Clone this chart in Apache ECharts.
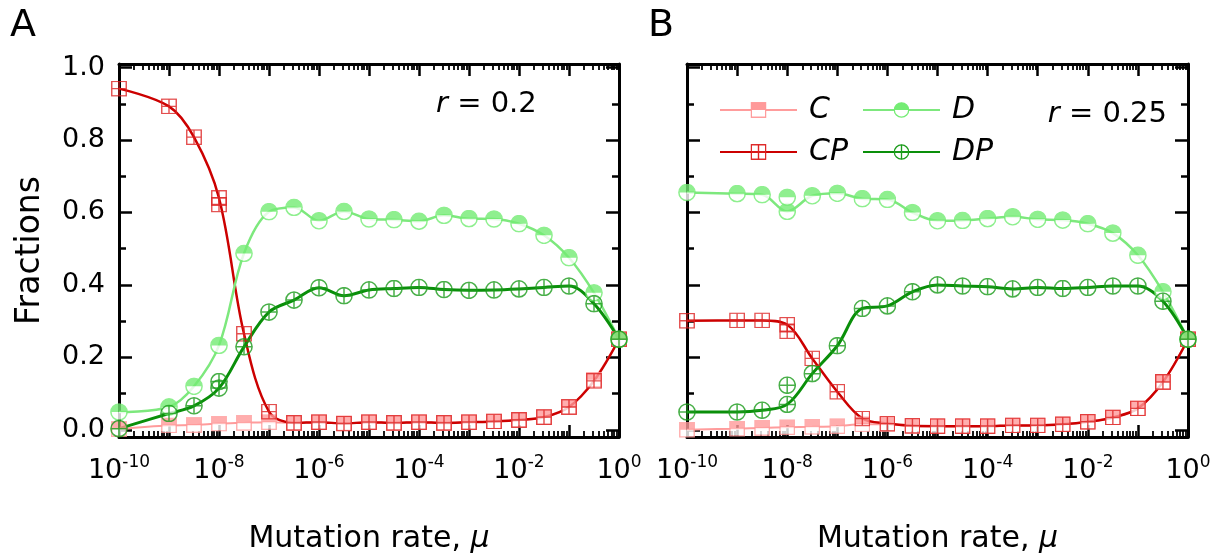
<!DOCTYPE html>
<html><head><meta charset="utf-8">
<script src="https://cdn.jsdelivr.net/npm/echarts@6/dist/echarts.min.js"></script>
<style>html,body{margin:0;padding:0;background:#fff}#c{width:1228px;height:560px}</style>
</head><body><div id="c"></div>
<script>
// ---------------- data ----------------
const mu = [1e-10, 1e-9, 3.162e-9, 1e-8, 3.162e-8, 1e-7, 3.162e-7, 1e-6, 3.162e-6, 1e-5,
            3.162e-5, 1e-4, 3.162e-4, 1e-3, 3.162e-3, 1e-2, 3.162e-2, 0.1, 0.3162, 1];
const xTickValues = [1e-10, 1e-9, 1e-8, 1e-7, 1e-6, 1e-5, 1e-4, 1e-3, 1e-2, 1e-1, 1];
const xLabelValues = [1e-10, 1e-8, 1e-6, 1e-4, 1e-2, 1];
const yLabelValues = [0, 0.2, 0.4, 0.6, 0.8, 1.0];
const yMinorValues = [0.1, 0.3, 0.5, 0.7, 0.9];

// Panel A (r = 0.2)
const cA  = [0.002, 0.012, 0.013, 0.017, 0.019, 0.021, 0.019, 0.021, 0.018, 0.021, 0.019, 0.021, 0.019, 0.021, 0.023, 0.027, 0.034, 0.062, 0.138, 0.25];
const cpA = [0.942, 0.893, 0.808, 0.640, 0.265, 0.050, 0.019, 0.021, 0.017, 0.021, 0.019, 0.021, 0.019, 0.021, 0.023, 0.027, 0.035, 0.063, 0.135, 0.25];
const dA  = [0.049, 0.063, 0.120, 0.233, 0.487, 0.602, 0.614, 0.577, 0.603, 0.582, 0.580, 0.576, 0.592, 0.583, 0.582, 0.569, 0.537, 0.475, 0.378, 0.25];
const dpA = [0.003, 0.045, 0.066, 0.115, 0.229, 0.325, 0.358, 0.392, 0.370, 0.386, 0.390, 0.393, 0.387, 0.385, 0.386, 0.389, 0.393, 0.397, 0.348, 0.25];
// Panel B (r = 0.25)
const cB  = [0.000, 0.003, 0.005, 0.007, 0.008, 0.010, 0.015, 0.015, 0.010, 0.010, 0.010, 0.010, 0.012, 0.012, 0.015, 0.022, 0.034, 0.059, 0.132, 0.25];
const cpB = [0.301, 0.302, 0.302, 0.290, 0.197, 0.105, 0.031, 0.017, 0.011, 0.010, 0.010, 0.010, 0.012, 0.012, 0.015, 0.022, 0.034, 0.059, 0.132, 0.25];
const dB  = [0.655, 0.652, 0.649, 0.603, 0.646, 0.653, 0.638, 0.636, 0.600, 0.577, 0.578, 0.583, 0.588, 0.581, 0.579, 0.569, 0.543, 0.482, 0.381, 0.25];
const dpB = [0.049, 0.049, 0.054, 0.070, 0.155, 0.232, 0.335, 0.342, 0.381, 0.400, 0.397, 0.395, 0.389, 0.393, 0.390, 0.393, 0.397, 0.397, 0.355, 0.25];
// replicate markers at mu = 1e-8
const dupMu = 1e-8;
const cpAextra = [0.622];
const dpAextra = [0.133];
const cpBextra = [0.272];
const dpBextra = [0.123];
const dBextra  = [0.642];
const rTexts = ['0.2', '0.25'];

// ---------------- style ----------------
const FONT = 'DejaVu Sans';
const COL = {
  C:  {line: '#ff9c9c', mark: '#ff9a9a', w: 2},
  CP: {line: '#cc0000', mark: '#dd2222', w: 2.5},
  D:  {line: '#7de87d', mark: '#74ec74', w: 2.5},
  DP: {line: '#0a8f0a', mark: '#1c9c1c', w: 3}
};
function img(svg) { return 'image://data:image/svg+xml;charset=utf-8,' + encodeURIComponent(svg); }
const SYM = {
  C: img(`<svg xmlns="http://www.w3.org/2000/svg" width="34" height="34" viewBox="0 0 17 17"><rect x="0.8" y="0.8" width="15.4" height="8.2" fill="${COL.C.mark}"/><rect x="0.8" y="8.5" width="15.4" height="7.7" fill="#fff"/><rect x="0.8" y="0.8" width="15.4" height="15.4" fill="none" stroke="${COL.C.mark}" stroke-width="1.5"/></svg>`),
  CP: img(`<svg xmlns="http://www.w3.org/2000/svg" width="34" height="34" viewBox="0 0 17 17"><rect x="0.8" y="0.8" width="15.4" height="15.4" fill="none" stroke="${COL.CP.mark}" stroke-width="1.5"/><path d="M8.5 0.8V16.2M0.8 8.5H16.2" stroke="${COL.CP.mark}" stroke-width="1.5"/></svg>`),
  D: img(`<svg xmlns="http://www.w3.org/2000/svg" width="36" height="36" viewBox="0 0 18 18"><circle cx="9" cy="9" r="8.1" fill="#fff"/><path d="M0.9 9A8.1 8.1 0 0 1 17.1 9Z" fill="${COL.D.mark}"/><circle cx="9" cy="9" r="8.1" fill="none" stroke="${COL.D.mark}" stroke-width="1.5"/></svg>`),
  DP: img(`<svg xmlns="http://www.w3.org/2000/svg" width="36" height="36" viewBox="0 0 18 18"><circle cx="9" cy="9" r="8.1" fill="none" stroke="${COL.DP.mark}" stroke-width="1.5"/><path d="M9 0.9V17.1M0.9 9H17.1" stroke="${COL.DP.mark}" stroke-width="1.5"/></svg>`)
};
const SIZE = {C: 16, CP: 16, D: 18, DP: 18};

const minorX = [];
for (let d = -10; d < 0; d++) for (let k = 2; k <= 9; k++) minorX.push(k * Math.pow(10, d));

const GRIDS = [
  {left: 119, right: 609, top: 64, bottom: 123},
  {left: 687, right: 40, top: 64, bottom: 123}
];

function xAxesFor(g) {
  const base = {type: 'log', logBase: 10, gridIndex: g, min: 1e-10, max: 1, splitLine: {show: false}, silent: true};
  const lineOn = {show: true, onZero: false, lineStyle: {color: '#000', width: 3}};
  const lineOff = {show: false, onZero: false};
  const major = {show: true, inside: true, length: 12, customValues: xTickValues, lineStyle: {color: '#000', width: 2.5}};
  const minor = {show: true, inside: true, length: 6, customValues: minorX, lineStyle: {color: '#000', width: 1.8}};
  return [
    Object.assign({}, base, {
      position: 'bottom', axisLine: lineOn, axisTick: major,
      axisLabel: {
        show: true, customValues: xLabelValues, margin: 17, color: '#000',
        formatter: v => '{b|10}{s|' + Math.round(Math.log10(v)) + '}',
        rich: {
          b: {fontFamily: FONT, fontSize: 27, color: '#000', verticalAlign: 'bottom', lineHeight: 30},
          s: {fontFamily: FONT, fontSize: 17, color: '#000', verticalAlign: 'top', lineHeight: 18}
        }
      },
      name: 'Mutation rate, {i|μ}', nameLocation: 'middle', nameGap: 87, nameMoveOverlap: false,
      nameTextStyle: {fontFamily: FONT, fontSize: 30, color: '#000',
        rich: {i: {fontFamily: FONT, fontSize: 30, fontStyle: 'italic', color: '#000'}}}
    }),
    Object.assign({}, base, {position: 'bottom', axisLine: lineOff, axisTick: minor, axisLabel: {show: false}}),
    Object.assign({}, base, {position: 'top', axisLine: lineOn, axisTick: major, axisLabel: {show: false}}),
    Object.assign({}, base, {position: 'top', axisLine: lineOff, axisTick: minor, axisLabel: {show: false}})
  ];
}
function yAxesFor(g) {
  const base = {type: 'value', gridIndex: g, min: -0.02, max: 1.01, splitLine: {show: false}, silent: true};
  const lineOn = {show: true, onZero: false, lineStyle: {color: '#000', width: 3}};
  const lineOff = {show: false, onZero: false};
  const major = {show: true, inside: true, length: 13, customValues: yLabelValues, lineStyle: {color: '#000', width: 2.5}};
  const minor = {show: true, inside: true, length: 7, customValues: yMinorValues, lineStyle: {color: '#000', width: 2.5}};
  const left = Object.assign({}, base, {position: 'left', axisLine: lineOn, axisTick: major,
    axisLabel: g === 0 ? {show: true, customValues: yLabelValues, margin: 14, color: '#000',
      fontFamily: FONT, fontSize: 27, formatter: v => v.toFixed(1)} : {show: false}});
  if (g === 0) {
    Object.assign(left, {name: 'Fractions', nameLocation: 'middle', nameGap: 72, nameMoveOverlap: false,
      nameTextStyle: {fontFamily: FONT, fontSize: 33, color: '#000'}});
  }
  return [
    left,
    Object.assign({}, base, {position: 'left', axisLine: lineOff, axisTick: minor, axisLabel: {show: false}}),
    Object.assign({}, base, {position: 'right', axisLine: lineOn, axisTick: major, axisLabel: {show: false}}),
    Object.assign({}, base, {position: 'right', axisLine: lineOff, axisTick: minor, axisLabel: {show: false}})
  ];
}

function pairs(vals) { return mu.map((m, i) => [m, vals[i]]); }
function extras(vals) { return vals.map(v => [dupMu, v]); }

const panels = [
  {C: cA, CP: cpA, D: dA, DP: dpA, extra: {CP: cpAextra, DP: dpAextra}},
  {C: cB, CP: cpB, D: dB, DP: dpB, extra: {CP: cpBextra, DP: dpBextra, D: dBextra}}
];
const names = ['C', 'CP', 'D', 'DP'];
const series = [];
panels.forEach((p, g) => {
  names.forEach(n => {
    series.push({
      type: 'line', name: n, xAxisIndex: g * 4, yAxisIndex: g * 4,
      data: pairs(p[n]), smooth: 0.35, showSymbol: false, symbol: SYM[n], symbolSize: SIZE[n],
      lineStyle: {color: COL[n].line, width: COL[n].w}, itemStyle: {color: COL[n].line},
      silent: true, z: 2
    });
  });
  names.forEach(n => {
    const data = pairs(p[n]).concat(p.extra[n] ? extras(p.extra[n]) : []);
    series.push({
      type: 'scatter', name: n, xAxisIndex: g * 4, yAxisIndex: g * 4,
      data: data, symbol: SYM[n], symbolSize: SIZE[n], itemStyle: {color: COL[n].mark},
      silent: true, z: 3
    });
  });
});

const xAxis = xAxesFor(0).concat(xAxesFor(1));
const yAxis = yAxesFor(0).concat(yAxesFor(1));

const legendBase = {
  orient: 'vertical', top: 95, padding: 0, itemWidth: 77, itemHeight: 20, itemGap: 12,
  selectedMode: false,
  textStyle: {fontFamily: FONT, fontSize: 30, fontStyle: 'italic', color: '#000', lineHeight: 30, padding: [0, 0, 0, 7]}
};

const titleStyle = {fontFamily: FONT, fontWeight: 'normal', color: '#000'};
const option = {
  animation: false,
  backgroundColor: '#fff',
  grid: GRIDS.map(g => Object.assign({containLabel: false, outerBoundsMode: 'none'}, g)),
  xAxis: xAxis,
  yAxis: yAxis,
  title: [
    {text: 'A', left: 10, top: 7, padding: 0, textStyle: Object.assign({fontSize: 38}, titleStyle)},
    {text: 'B', left: 648, top: 7, padding: 0, textStyle: Object.assign({fontSize: 38}, titleStyle)},
    {text: '{i|r} = ' + rTexts[0], left: 436, top: 90, padding: 0,
      textStyle: Object.assign({fontSize: 29, rich: {i: {fontFamily: FONT, fontSize: 29, fontStyle: 'italic', color: '#000'}}}, titleStyle)},
    {text: '{i|r} = ' + rTexts[1], right: 61, top: 100, padding: 0,
      textStyle: Object.assign({fontSize: 29, rich: {i: {fontFamily: FONT, fontSize: 29, fontStyle: 'italic', color: '#000'}}}, titleStyle)}
  ],
  legend: [
    Object.assign({}, legendBase, {left: 719, data: ['C', 'CP']}),
    Object.assign({}, legendBase, {left: 862, data: ['D', 'DP']})
  ],
  series: series
};
const chart = echarts.init(document.getElementById('c'), null, {renderer: 'canvas'});
chart.setOption(option);
</script>
</body></html>
